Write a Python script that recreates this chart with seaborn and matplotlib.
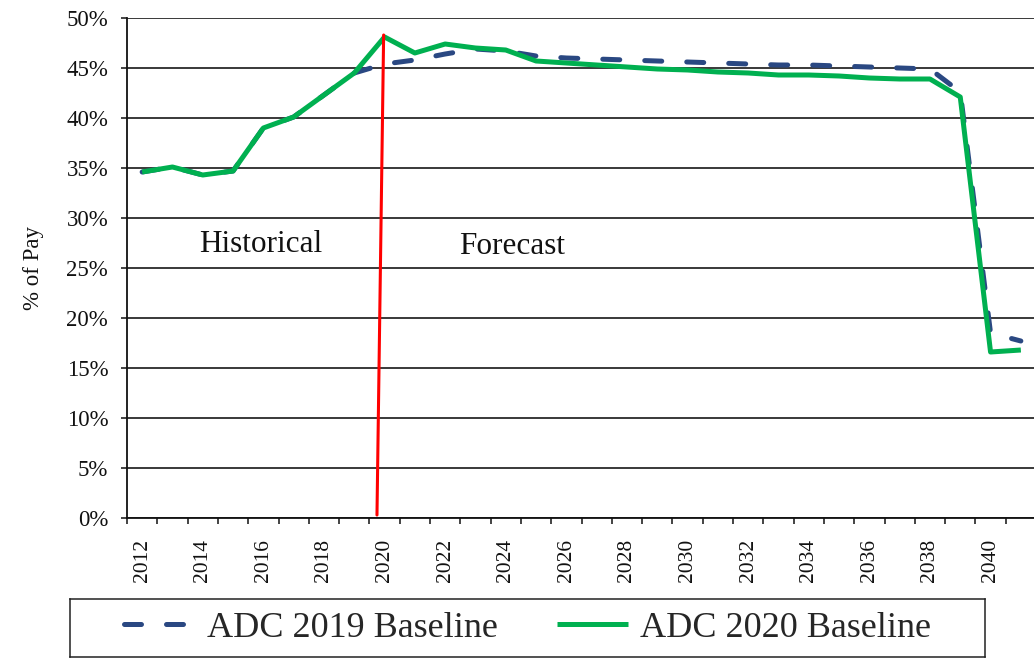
import numpy as np
import pandas as pd
import matplotlib
matplotlib.use("Agg")
import matplotlib.pyplot as plt
import seaborn as sns

# ---- data -------------------------------------------------------------
years = list(range(2012, 2042))

adc_2019 = [34.6, 35.1, 34.3, 34.7, 39.0, 40.1, 42.3, 44.5,
            45.4, 45.8, 46.4, 46.9, 46.7, 46.2, 46.0, 45.9,
            45.8, 45.7, 45.6, 45.5, 45.4, 45.3, 45.3, 45.2,
            45.1, 45.0, 44.9, 42.6, 18.5, 17.7]

adc_2020 = [34.6, 35.1, 34.3, 34.7, 39.0, 40.1, 42.3, 44.5,
            48.1, 46.5, 47.4, 47.0, 46.8, 45.7, 45.5, 45.3,
            45.1, 44.9, 44.8, 44.6, 44.5, 44.3, 44.3, 44.2,
            44.0, 43.9, 43.9, 42.1, 16.6, 16.8]

series_labels = ["ADC 2019 Baseline", "ADC 2020 Baseline"]

# divider between actuals and projections
divider_x = [2019.97, 2019.75]
divider_y = [48.3, 0.3]

y_ticks = [0, 5, 10, 15, 20, 25, 30, 35, 40, 45, 50]
y_tick_labels = [f"{v}%" for v in y_ticks]
x_tick_years = years[::2]

region_labels = ["Historical", "Forecast"]
region_x = [2015.9, 2024.2]
region_y = [27.3, 27.2]

# ---- style ------------------------------------------------------------
sns.set_style("white")
plt.rcParams["font.family"] = ["Liberation Serif", "DejaVu Serif"]
plt.rcParams["axes.linewidth"] = 1.3

BLUE = "#2A4882"
GREEN = "#00B050"
RED = "#FF0000"

df = pd.DataFrame({"year": years, "adc2019": adc_2019, "adc2020": adc_2020})

fig = plt.figure(figsize=(10.34, 6.58), dpi=100)
ax = fig.add_axes([127 / 1034, 140 / 658, 909 / 1034, 500 / 658])

sns.lineplot(data=df, x="year", y="adc2019", ax=ax, color=BLUE, lw=3.6,
             linestyle=(0, (3.4, 5.0)), dash_capstyle="round",
             label=series_labels[0], legend=False, zorder=3)
sns.lineplot(data=df, x="year", y="adc2020", ax=ax, color=GREEN, lw=3.6,
             solid_capstyle="butt", label=series_labels[1], legend=False,
             zorder=4)
ax.plot(divider_x, divider_y, color=RED, lw=2.2, zorder=5)

for txt, tx, ty in zip(region_labels, region_x, region_y):
    ax.text(tx, ty, txt, ha="center", va="center", fontsize=22.5,
            color="#111111", zorder=6)

# ---- axes -------------------------------------------------------------
ax.set_xlim(years[0] - 0.5, years[-1] + 0.5)
ax.set_ylim(0, 50)

ax.set_yticks(y_ticks)
ax.set_yticklabels(y_tick_labels, fontsize=16.5, color="#111111")
ax.tick_params(axis="y", direction="out", length=4.5, width=1.1, pad=9,
               left=True, color="#111111")

ax.set_xticks(x_tick_years)
ax.set_xticklabels([str(y) for y in x_tick_years], rotation=90,
                   fontsize=15.5, color="#111111")
ax.set_xticks(np.arange(years[0] - 0.5, years[-1] + 1.0, 1.0), minor=True)
ax.tick_params(axis="x", which="major", length=0, pad=15)
ax.tick_params(axis="x", which="minor", direction="out", length=4.5,
               width=1.1, bottom=True, color="#111111")

ax.yaxis.grid(True, color="#2a2a2a", lw=1.3)
ax.xaxis.grid(False)
ax.set_axisbelow(True)
for side in ("top", "right"):
    ax.spines[side].set_visible(False)
for side in ("left", "bottom"):
    ax.spines[side].set_color("#111111")

ax.set_xlabel("")
ax.set_ylabel("% of Pay", fontsize=16.5, labelpad=16, color="#111111")

# ---- legend in a framed strip under the plot --------------------------
lax = fig.add_axes([70 / 1034, 1 / 658, 915 / 1034, 58 / 658])
lax.set_xticks([])
lax.set_yticks([])
lax.set_facecolor("white")
for sp in lax.spines.values():
    sp.set_color("#222222")
    sp.set_linewidth(1.1)
handles, labels = ax.get_legend_handles_labels()
lax.legend(handles, labels, loc="center", ncol=2, frameon=False,
           fontsize=26, handlelength=1.97, handletextpad=0.33,
           columnspacing=1.64, borderpad=0.0, borderaxespad=0.0)

fig.savefig("out.png", dpi=100, facecolor="white")
